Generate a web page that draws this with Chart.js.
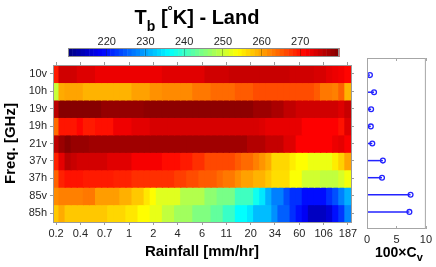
<!DOCTYPE html>
<html>
<head>
<meta charset="utf-8">
<script src="https://cdn.jsdelivr.net/npm/chart.js@4.4.1/dist/chart.umd.min.js"></script>
<style>
  html, body { margin:0; padding:0; background:#fff; }
  #wrap { position:relative; width:436px; height:267px; overflow:hidden; font-family:'Liberation Sans', Arial, sans-serif; }
  canvas { position:absolute; left:0; top:0; }
  .lbl { position:absolute; font-weight:bold; color:#000; white-space:nowrap; }
</style>
</head>
<body>
<div id="wrap">
  <canvas id="heat" width="436" height="267"></canvas>
  <canvas id="cbar" width="436" height="267"></canvas>
  <canvas id="stem" width="436" height="267"></canvas>
  <div class="lbl" style="left:0;top:7px;width:394px;text-align:center;font-size:20px;line-height:20px;">T<span style="position:relative;top:7px;font-size:14px">b</span> [<span style="position:relative;top:-9px;font-size:13px">°</span>K] - Land</div>
  <div class="lbl" style="left:375px;top:245px;font-size:14px;line-height:14px;">100×C<span style="position:relative;top:4px;font-size:11px">v</span></div>
</div>
<script>
// rows of the map (top to bottom) and rainfall tick labels (every 4th bin)
const rowLabels = ['10v','10h','19v','19h','21v','37v','37h','85v','85h'];
const rainTicks = ['0.2','0.4','0.7','1','2','4','6','11','20','34','60','106','187'];
const cbarTicks = [220, 230, 240, 250, 260, 270];
const cvTicks = [0, 5, 10];

// brightness temperature [K], 49 rainfall bins per channel
const tb10v = [269.5,274.5,274.5,274.5,273.5,273.5,273.5,272.5,272.5,272.5,272.5,272.5,272.5,272.5,272.5,272.5,272.5,272.5,273.3,273.3,273.3,273.3,273.3,273.3,273.3,274.5,274.5,274.5,274.5,275,275,275,275,275,275,275,275,275,275,274.5,274.5,274.5,274.5,274,274,273,272.5,272,271];
const tb10h = [250,259.5,260,260,260,259,259,259,259,259,259,259,259,260.2,260.2,260.2,261.3,261.3,261.8,261.8,261.8,261.8,261.8,263,263,263,264,264,264,264,265,265,265,266,266,266,266,266,266,266,266,266,266,265,263,263,262.5,264.5,259];
const tb19v = [276,279.5,279.5,279.5,279.5,279.5,279.5,279.5,278.5,278.5,278.5,278.5,278.5,278.5,278.5,279,279,279,279,279,279,279,279,279,279,279,279,279,279,279,279,279,279,278,278,278,277,277,275.5,275.5,274.5,274.5,274.5,274.5,274.5,274.5,274.5,273.5,275];
const tb19h = [264,269.8,269.8,269.8,271,269.5,269.5,270.2,270.2,270.2,272.3,272.3,272.3,273.2,273.2,273.2,274,274,274,274,274,274,274,274,274,274,274,274,274,274,274,274,274,274,273.5,272.8,272.8,272.8,272.8,272.8,272.8,271.3,271.3,271.3,271.3,271.3,271.3,270,273.5];
const tb21v = [275.8,278.2,279.5,278.3,278.3,278.3,277.8,277.8,277.8,277.8,277.8,277.8,277.8,277.8,277.8,277.8,277.8,277.8,277.8,277.8,277.8,277.8,277.8,277.8,277.8,277.8,277.8,277.8,277.8,277.8,277.8,277.8,276.5,276.5,276.5,275.2,275.2,275.2,273.5,273.5,271.3,271.3,271.3,271.3,271.3,271.3,272.5,273,271.5];
const tb37v = [269,273,276,275,274.3,274.3,274.3,274.3,274.3,273.3,273.3,273.3,273.3,271.8,271.8,271.8,271.8,271.8,270.5,270.5,270.5,269.5,269.5,268,268,266.3,266.3,266.3,266.3,266.3,265,264,264,262.5,261,259.5,256.5,256.5,256.5,255,253.8,253.8,252.5,252.5,252.5,252.5,255,257,260];
const tb37h = [264.5,269,270,270,270,269.5,269.5,269.5,269.5,269.5,269,269,269,268,268,268,268,268,268,268,267,267,266,266,265,265,265,264,263,263,261.5,260.2,260.2,259,259,257.5,256,256,256,253.5,253.5,250.5,250.5,250.5,249.5,249.5,249.5,251,253];
const tb85v = [261.7,262.5,262.5,262.5,262.5,263,263,260.5,260.5,260.5,260.5,259.2,259.2,257.5,257.5,255.4,253.8,251.6,251.6,251.6,251.6,248.5,248.5,248.5,248.5,246,246,244.5,244.5,244.5,240.6,240.6,240.6,237.3,234.7,230.8,227.5,227.5,224.2,222,222,219.5,219.5,219.5,219.5,222,224.2,227.5,230.8];
const tb85h = [257.5,259.5,257.5,257.5,257.5,257.5,257.5,257.5,257.5,256.5,256.5,256.5,255.4,255.4,253.8,253.8,252.2,252.2,249.5,249.5,247.3,247.3,247.3,245,245,245,243,243,240.1,240.1,236.3,236.3,234.7,231.7,231.7,231.7,228.6,225.3,225.3,222,219.8,218,214.5,214.5,214.5,216,219.8,222.5,228];
const tbRows = [tb10v, tb10h, tb19v, tb19h, tb21v, tb37v, tb37h, tb85v, tb85h];

// 100 x coefficient of variation per channel
const cvValues = [0.5, 1.2, 0.7, 0.65, 0.9, 2.7, 2.55, 7.4, 7.2];

const cMin = 210, cMax = 280;
const axisGray = '#9a9a9a';
const tickColor = '#262626';
const stemBlue = '#2323ff';

Chart.defaults.font.family = "'Liberation Sans', Arial, sans-serif";
Chart.defaults.color = tickColor;

function clamp(v){ return Math.min(1, Math.max(0, v)); }
function jet(v){
  const t = clamp((v - cMin) / (cMax - cMin));
  const r = clamp(1.5 - Math.abs(4*t - 3));
  const g = clamp(1.5 - Math.abs(4*t - 2));
  const b = clamp(1.5 - Math.abs(4*t - 1));
  return 'rgb(' + Math.round(r*255) + ',' + Math.round(g*255) + ',' + Math.round(b*255) + ')';
}

const cols = tb10v.map((_, i) => i);
const rainTickIdx = rainTicks.map((_, k) => ({value: k*4}));
const rowTickIdx = rowLabels.map((_, i) => ({value: i}));

// ---- heat map ----
new Chart(document.getElementById('heat'), {
  type: 'bar',
  data: {
    labels: cols,
    datasets: tbRows.map((row, r) => ({
      data: row.map(() => [r - 0.5, r + 0.5]),
      backgroundColor: row.map(jet),
      borderWidth: 0,
      borderSkipped: false,
      inflateAmount: 0.6,
      grouped: false,
      barPercentage: 1,
      categoryPercentage: 1
    }))
  },
  options: {
    responsive: false,
    animation: false,
    layout: { padding: 0 },
    plugins: { legend: { display: false }, tooltip: { enabled: false } },
    scales: {
      x: {
        position: 'bottom', offset: true,
        afterBuildTicks: s => { s.ticks = rainTickIdx.map(t => ({...t})); },
        afterFit: s => { s.height = 45; },
        grid: { drawOnChartArea: false, offset: false, tickLength: 3, color: axisGray },
        border: { color: axisGray, z: 1 },
        ticks: { autoSkip: false, maxRotation: 0, padding: 2, font: { size: 11 }, callback: (v, i) => rainTicks[i] },
        title: { display: true, text: 'Rainfall [mm/hr]', color: '#000', font: { size: 15, weight: 'bold' }, padding: { top: 0, bottom: 6 } }
      },
      xTop: {
        type: 'category', position: 'top', offset: true,
        afterBuildTicks: s => { s.ticks = rainTickIdx.map(t => ({...t})); },
        afterFit: s => { s.height = 65; },
        grid: { drawOnChartArea: false, offset: false, tickLength: 3, color: axisGray },
        border: { color: axisGray, z: 1 },
        ticks: { display: false }
      },
      y: {
        type: 'linear', position: 'left', reverse: true, min: -0.5, max: 8.5,
        afterBuildTicks: s => { s.ticks = rowTickIdx.map(t => ({...t})); },
        afterFit: s => { s.width = 53; },
        grid: { drawOnChartArea: false, tickLength: 3, color: axisGray },
        border: { color: axisGray, z: 1 },
        ticks: { padding: 3, font: { size: 11 }, callback: v => rowLabels[v] },
        title: { display: true, text: 'Freq. [GHz]', color: '#000', font: { size: 15, weight: 'bold' }, padding: { top: 2, bottom: 0 } }
      },
      yRight: {
        type: 'linear', position: 'right', reverse: true, min: -0.5, max: 8.5,
        afterBuildTicks: s => { s.ticks = rowTickIdx.map(t => ({...t})); },
        afterFit: s => { s.width = 85; },
        grid: { drawOnChartArea: false, tickLength: 3, color: axisGray },
        border: { color: axisGray, z: 1 },
        ticks: { display: false }
      }
    }
  }
});

// ---- colour bar ----
const cbarFill = {
  id: 'cbarFill',
  beforeDraw(chart){
    const {ctx, chartArea: a, scales: {x}} = chart;
    const steps = 64;
    ctx.save();
    for (let k = 0; k < steps; k++) {
      const v0 = cMin + (cMax - cMin) * k / steps;
      const v1 = cMin + (cMax - cMin) * (k + 1) / steps;
      const x0 = x.getPixelForValue(v0), x1 = x.getPixelForValue(v1);
      ctx.fillStyle = jet((v0 + v1) / 2);
      ctx.fillRect(x0, a.top, x1 - x0 + 0.5, a.bottom - a.top);
    }
    ctx.restore();
  },
  afterDraw(chart){
    const {ctx, chartArea: a} = chart;
    ctx.save();
    ctx.strokeStyle = '#8c8c8c';
    ctx.lineWidth = 1;
    ctx.strokeRect(a.left + 0.5, a.top + 0.5, a.right - a.left - 1, a.bottom - a.top - 1);
    ctx.restore();
  }
};

new Chart(document.getElementById('cbar'), {
  type: 'scatter',
  data: { datasets: [] },
  plugins: [cbarFill],
  options: {
    responsive: false,
    animation: false,
    layout: { padding: { left: 68, right: 97, top: 0, bottom: 210 } },
    plugins: { legend: { display: false }, tooltip: { enabled: false } },
    scales: {
      x: {
        type: 'linear', position: 'top', min: cMin, max: cMax,
        afterBuildTicks: s => { s.ticks = cbarTicks.map(v => ({value: v})); },
        afterFit: s => { s.height = 48; },
        grid: { drawOnChartArea: true, drawTicks: false, color: 'rgba(0,0,0,0.28)' },
        border: { display: false },
        ticks: { padding: -1, font: { size: 11 }, maxRotation: 0 }
      },
      y: { display: false, min: 0, max: 1 }
    }
  }
});

// ---- coefficient of variation stems ----
const stemBox = {
  id: 'stemBox',
  afterDraw(chart){
    const {ctx, chartArea: a, scales: {x}} = chart;
    ctx.save();
    ctx.strokeStyle = '#a6a6a6';
    ctx.lineWidth = 1;
    ctx.strokeRect(a.left + 0.5, a.top + 0.5, a.right - a.left - 1, a.bottom - a.top - 1);
    ctx.beginPath();
    cvTicks.forEach(v => {
      const px = Math.round(x.getPixelForValue(v)) + 0.5;
      ctx.moveTo(px, a.top); ctx.lineTo(px, a.top + 3);
      ctx.moveTo(px, a.bottom); ctx.lineTo(px, a.bottom - 3);
    });
    ctx.stroke();
    ctx.restore();
  }
};

const stemSets = cvValues.map((v, i) => ({
  data: [{x: 0, y: i + 1}, {x: v, y: i + 1}],
  showLine: true, borderColor: stemBlue, borderWidth: 1.5, pointRadius: 0, clip: false
}));
stemSets.push({
  data: cvValues.map((v, i) => ({x: v, y: i + 1})),
  showLine: false, pointRadius: 2.4, pointBorderWidth: 1.3,
  pointBorderColor: stemBlue, pointBackgroundColor: '#fff'
});

new Chart(document.getElementById('stem'), {
  type: 'scatter',
  data: { datasets: stemSets },
  plugins: [stemBox],
  options: {
    responsive: false,
    animation: false,
    layout: { padding: { left: 367, right: 9, top: 58, bottom: 0 } },
    plugins: { legend: { display: false }, tooltip: { enabled: false } },
    scales: {
      x: {
        type: 'linear', position: 'bottom', min: 0, max: 10,
        afterBuildTicks: s => { s.ticks = cvTicks.map(v => ({value: v})); },
        afterFit: s => { s.height = 38; },
        grid: { display: false, drawTicks: false },
        border: { display: false },
        ticks: { padding: 4, font: { size: 11 }, maxRotation: 0 }
      },
      y: { display: false, reverse: true, min: 0, max: 10 }
    }
  }
});
</script>
</body>
</html>
